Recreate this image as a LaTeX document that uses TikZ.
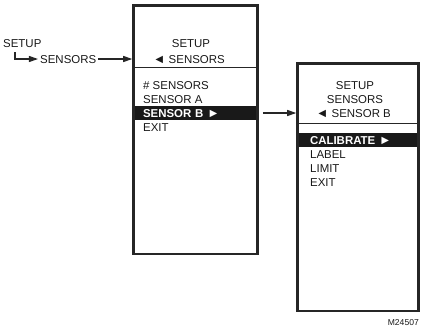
\documentclass[tikz,border=0pt]{standalone}
\usepackage{fontspec}
\setmainfont{Liberation Sans}
\usetikzlibrary{arrows.meta}

\newcommand{\tril}{{\fontsize{12.5}{12}\selectfont ◄}}
\newcommand{\trir}{{\fontsize{12.5}{12}\selectfont ►}}

\begin{document}
\begin{tikzpicture}[x=1bp, y=-1bp,
        t/.style={inner sep=0pt, text height=8.2bp, text depth=0pt,
          font=\fontsize{11.5}{13}\selectfont, text=black!90},
        tl/.style={t, anchor=west},
        menu/.style={draw=black!85, line width=2.5bp, inner sep=0pt},
        sel/.style={t, fill=black!90, text=white, font=\fontsize{11.5}{13}\selectfont\bfseries,
          inner xsep=8bp, inner ysep=2.9bp, align=left},
        arr/.style={draw=black!85, line width=1.1bp, -{Triangle[length=9bp, width=6bp]}}]

      \useasboundingbox (0,0) rectangle (423,328);

      % entry
      \node[tl] (setup) at (3,43) {SETUP};
      \node[tl] (sens) at (40,59) {SENSORS};

      % menu 1
      \node[menu, minimum width=124bp, minimum height=248.5bp] (menuA) at (195.5,129.75) {};
      \draw[draw=black!85, line width=.9bp] (menuA.west |- 0,67) -- (menuA.east |- 0,67);
      \node[t] (a0) at (191,43) {SETUP};
      \node[t] (a1) at (189,59) {\tril\ SENSORS};
      \node[tl] (a2) at (143,85) {\# SENSORS};
      \node[tl] (a3) at (143,99) {SENSOR A};
      \node[sel, text width=105bp] (a4) at (195.5,113) {SENSOR B \trir};
      \node[tl] (a5) at (143,127) {EXIT};

      % menu 2
      \node[menu, minimum width=121bp, minimum height=247.5bp] (menuB) at (358,187.25) {};
      \draw[draw=black!85, line width=.9bp] (menuB.west |- 0,123) -- (menuB.east |- 0,123);
      \node[t] (b0) at (355,85) {SETUP};
      \node[t] (b1) at (355,99) {SENSORS};
      \node[t] (b2) at (353.5,113) {\tril\ SENSOR B};
      \node[sel, inner xsep=11bp, text width=96bp] (b3) at (358,140) {CALIBRATE \trir};
      \node[tl] (b4) at (310,154) {LABEL};
      \node[tl] (b5) at (310,168) {LIMIT};
      \node[tl] (b6) at (310,182) {EXIT};

      % arrows
      \draw[arr] ([xshift=12bp, yshift=-5bp]setup.south west) |- ([xshift=-2bp]sens.west);
      \draw[arr] ([xshift=2bp]sens.east) -- (sens -| menuA.west);
      \draw[arr] ([xshift=4bp]menuA.east |- a4) -- (a4 -| menuB.west);

      \node[t, anchor=east, font=\fontsize{8.6}{9}\selectfont, text height=6.2bp] (code) at (419,322) {M24507};
    \end{tikzpicture}
\end{document}
